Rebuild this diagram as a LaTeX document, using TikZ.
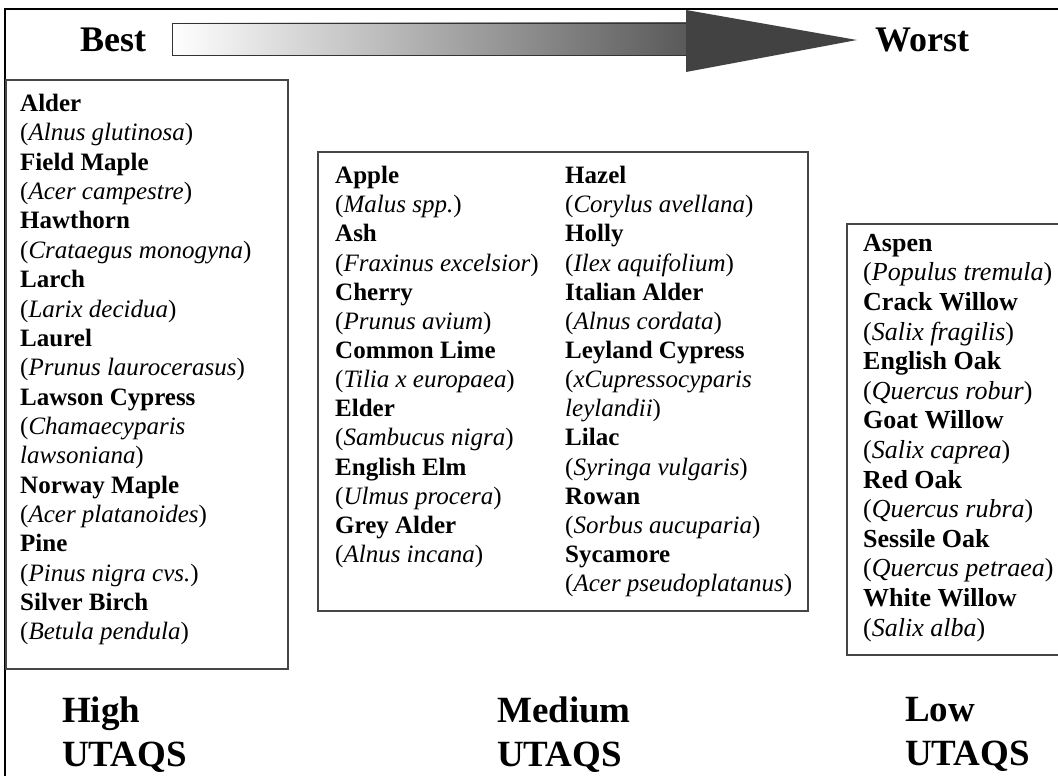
\documentclass[tikz,border=0pt]{standalone}
\usepackage{fontspec}
\setmainfont{Liberation Serif}
\usetikzlibrary{positioning}

\newcommand{\treeitem}[2]{\textbf{#1}\\(\textit{#2})}

\tikzset{
    listbox/.style={draw=gray!55!black, line width=1.6pt},
    listtext/.style={anchor=north west, align=left, inner sep=0pt},
    ranklabel/.style={anchor=north west, align=left, inner sep=0pt,
        font=\fontsize{37}{44}\selectfont\bfseries},
    scalelabel/.style={anchor=base west, inner sep=0pt,
        font=\fontsize{36}{40}\selectfont\bfseries}
}

\begin{document}
\begin{tikzpicture}[x=1pt, y=-1pt]
        \useasboundingbox (0,0) rectangle (1058,776);
        \clip (0,0) rectangle (1058,776);

        % outer frame
        \draw[line width=2pt] (5,776) -- (5,9) -- (1060,9);

        % scale arrow
        \shade[left color=white, right color=gray!70!black, draw=gray!40!black, line width=0.8pt]
            (172,23) rectangle (687,55);
        \fill[black!74] (686,10) -- (857,40) -- (686,72) -- cycle;
        \node[scalelabel] (best) at (80,52) {Best};
        \node[scalelabel] (worst) at (875,52) {Worst};

        % high box
        \draw[listbox] (6,80) rectangle (288,669);
        \node[listtext, font=\fontsize{25}{29.35}\selectfont] (high) at (20,94) {%
            \treeitem{Alder}{Alnus glutinosa}\\
            \treeitem{Field Maple}{Acer campestre}\\
            \treeitem{Hawthorn}{Crataegus monogyna}\\
            \treeitem{Larch}{Larix decidua}\\
            \treeitem{Laurel}{Prunus laurocerasus}\\
            \textbf{Lawson Cypress}\\(\textit{Chamaecyparis}\\\textit{lawsoniana})\\
            \treeitem{Norway Maple}{Acer platanoides}\\
            \treeitem{Pine}{Pinus nigra cvs.}\\
            \treeitem{Silver Birch}{Betula pendula}};

        % medium box
        \draw[listbox] (318,152) rectangle (808,611);
        \node[listtext, font=\fontsize{25}{29.15}\selectfont] (medA) at (335,166) {%
            \treeitem{Apple}{Malus spp.}\\
            \treeitem{Ash}{Fraxinus excelsior}\\
            \treeitem{Cherry}{Prunus avium}\\
            \treeitem{Common Lime}{Tilia x europaea}\\
            \treeitem{Elder}{Sambucus nigra}\\
            \treeitem{English Elm}{Ulmus procera}\\
            \treeitem{Grey Alder}{Alnus incana}};
        \node[listtext, font=\fontsize{25}{29.15}\selectfont] (medB) at (565,166) {%
            \treeitem{Hazel}{Corylus avellana}\\
            \treeitem{Holly}{Ilex aquifolium}\\
            \treeitem{Italian Alder}{Alnus cordata}\\
            \textbf{Leyland Cypress}\\(\textit{xCupressocyparis}\\\textit{leylandii})\\
            \treeitem{Lilac}{Syringa vulgaris}\\
            \treeitem{Rowan}{Sorbus aucuparia}\\
            \treeitem{Sycamore}{Acer pseudoplatanus}};

        % low box
        \draw[listbox] (847,224) rectangle (1075,655);
        \node[listtext, font=\fontsize{26}{29.6}\selectfont] (low) at (863,234) {%
            \treeitem{Aspen}{Populus tremula}\\
            \treeitem{Crack Willow}{Salix fragilis}\\
            \treeitem{English Oak}{Quercus robur}\\
            \treeitem{Goat Willow}{Salix caprea}\\
            \treeitem{Red Oak}{Quercus rubra}\\
            \treeitem{Sessile Oak}{Quercus petraea}\\
            \treeitem{White Willow}{Salix alba}};

        % UTAQS labels
        \node[ranklabel] (highlabel) at (62,697) {High\\UTAQS};
        \node[ranklabel] (medlabel) at (497,697) {Medium\\UTAQS};
        \node[ranklabel] (lowlabel) at (905,697) {Low\\UTAQS};

    \end{tikzpicture}
\end{document}
